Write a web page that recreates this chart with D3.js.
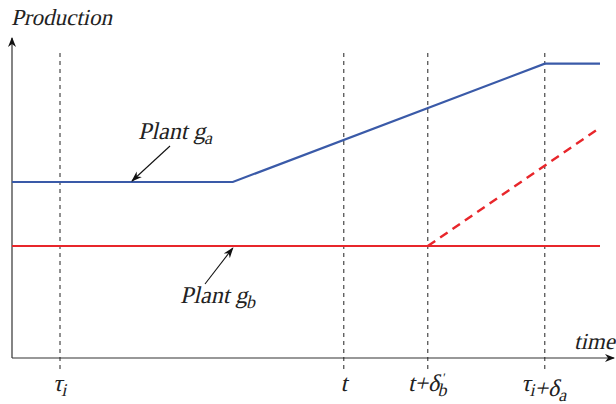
<!DOCTYPE html>
<html>
<head>
<meta charset="utf-8">
<script src="https://cdn.jsdelivr.net/npm/d3@7"></script>
</head>
<body style="margin:0; background:#fff">
<svg id="chart" width="616" height="404"></svg>
<script>
// Time markers (abstract time units) and their labels
const markerTimes = [8, 55.3, 69.3, 88.8];
const markerLabels = [
  [{t: "τ"}, {t: "i", sub: true}],
  [{t: "t"}],
  [{t: "t+δ"}, {t: "b", sub: true, prime: true}],
  [{t: "τ"}, {t: "i", sub: true}, {t: "+δ"}, {t: "a", sub: true}]
];

// Production of plant g_a: flat, ramps up, then flat again
const plantA_time = [0, 36.8, 88.8, 98];
const plantA_prod = [55, 55, 92, 92];

// Production of plant g_b: flat baseline
const plantB_time = [0, 98];
const plantB_prod = [35, 35];

// Plant g_b projected ramp after t+δ'_b
const plantBRamp_time = [69.3, 98];
const plantBRamp_prod = [35, 72];

const svg = d3.select("#chart");
const x = d3.scaleLinear().domain([0, 100]).range([12, 612]);
const y = d3.scaleLinear().domain([0, 100]).range([358, 38]);

// Arrowhead markers
const defs = svg.append("defs");
defs.append("marker").attr("id", "ah").attr("viewBox", "0 0 10 10")
  .attr("refX", 9).attr("refY", 5).attr("markerWidth", 10).attr("markerHeight", 10)
  .attr("markerUnits", "userSpaceOnUse").attr("orient", "auto")
  .append("path").attr("d", "M0,1 L10,5 L0,9 L3,5 Z").attr("fill", "#111");
defs.append("marker").attr("id", "ahs").attr("viewBox", "0 0 10 10")
  .attr("refX", 9).attr("refY", 5).attr("markerWidth", 11).attr("markerHeight", 11)
  .attr("markerUnits", "userSpaceOnUse").attr("orient", "auto")
  .append("path").attr("d", "M0,1.5 L10,5 L0,8.5 L3,5 Z").attr("fill", "#111");

// Axes
svg.append("line").attr("x1", x(0)).attr("y1", y(0)).attr("x2", x(0)).attr("y2", 38)
  .attr("stroke", "#333").attr("stroke-width", 1.2).attr("marker-end", "url(#ah)");
svg.append("line").attr("x1", x(0)).attr("y1", y(0)).attr("x2", 614).attr("y2", y(0))
  .attr("stroke", "#333").attr("stroke-width", 1.2).attr("marker-end", "url(#ah)");

// Slanted serif text: upright Liberation Serif sheared into an oblique face
function txt(xp, yp, size) {
  return svg.append("g").attr("transform", `translate(${xp},${yp}) skewX(-13)`)
    .append("text").attr("x", 0).attr("y", 0).attr("font-size", size)
    .attr("font-family", "Liberation Serif").attr("fill", "#222");
}

txt(11, 25, 23).text("Production");
txt(574, 349, 23).text("time");

// Vertical dashed marker lines
svg.selectAll(".marker").data(markerTimes).join("line")
  .attr("x1", d => x(d)).attr("x2", d => x(d)).attr("y1", 53).attr("y2", 373)
  .attr("stroke", "#222").attr("stroke-width", 1).attr("stroke-dasharray", "4,4");

// Marker labels with subscripts
markerTimes.forEach((d, i) => {
  const parts = markerLabels[i];
  const t = txt(x(d), 391, 24).attr("text-anchor", "middle");
  parts.forEach(p => {
    if (p.sub) {
      if (p.prime) {
        t.append("tspan").attr("dy", -9).attr("font-size", 13).text("'");
        t.append("tspan").attr("dx", -3).attr("dy", 14).attr("font-size", 18).text(p.t);
        t.append("tspan").attr("dy", -5).text("");
      } else {
        t.append("tspan").attr("dy", 5).attr("font-size", 18).text(p.t);
        t.append("tspan").attr("dy", -5).text("");
      }
    } else {
      t.append("tspan").text(p.t);
    }
  });
});

const line = d3.line().x(d => x(d[0])).y(d => y(d[1]));
const zip = (a, b) => a.map((v, i) => [v, b[i]]);

svg.append("path").attr("d", line(zip(plantB_time, plantB_prod)))
  .attr("fill", "none").attr("stroke", "#e8262b").attr("stroke-width", 2.2);
svg.append("path").attr("d", line(zip(plantBRamp_time, plantBRamp_prod)))
  .attr("fill", "none").attr("stroke", "#e8262b").attr("stroke-width", 2.4).attr("stroke-dasharray", "9,6");
svg.append("path").attr("d", line(zip(plantA_time, plantA_prod)))
  .attr("fill", "none").attr("stroke", "#3a5aa8").attr("stroke-width", 2.2);

// Annotations
function label(xp, yp, sub) {
  const t = txt(xp, yp, 24);
  t.append("tspan").text("Plant g");
  t.append("tspan").attr("dy", 5).attr("font-size", 18).text(sub);
}
label(138, 139, "a");
svg.append("line").attr("x1", 170).attr("y1", 146).attr("x2", x(20)).attr("y2", y(55) - 1)
  .attr("stroke", "#111").attr("stroke-width", 1.1).attr("marker-end", "url(#ahs)");
label(180, 303, "b");
svg.append("line").attr("x1", 205).attr("y1", 284).attr("x2", x(36.8)).attr("y2", y(35) + 2)
  .attr("stroke", "#111").attr("stroke-width", 1.1).attr("marker-end", "url(#ahs)");
</script>
</body>
</html>
